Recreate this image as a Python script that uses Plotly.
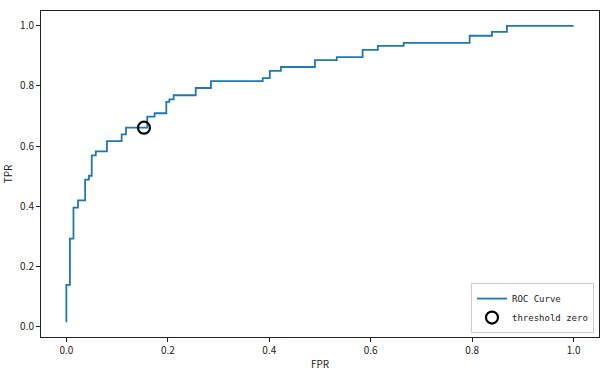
import plotly.graph_objects as go

# ROC curve corners (x of each vertical rise, TPR after the rise)
fpr = [0.0, 0.0, 0.007, 0.014, 0.023, 0.037, 0.0445, 0.050, 0.058, 0.080,
       0.109, 0.1175, 0.1595, 0.174, 0.197, 0.203, 0.2115, 0.255, 0.285,
       0.387, 0.401, 0.423, 0.490, 0.533, 0.584, 0.614, 0.665, 0.795,
       0.839, 0.8685, 1.0]
tpr = [0.0138, 0.138, 0.292, 0.395, 0.419, 0.488, 0.501, 0.569, 0.582, 0.616,
       0.639, 0.661, 0.698, 0.709, 0.747, 0.755, 0.769, 0.793, 0.816,
       0.826, 0.850, 0.863, 0.886, 0.896, 0.920, 0.933, 0.943, 0.967,
       0.980, 1.0, 1.0]

thr_fpr = [0.153]
thr_tpr = [0.661]

tick_vals = [0.0, 0.2, 0.4, 0.6, 0.8, 1.0]
tick_text = ["0.0", "0.2", "0.4", "0.6", "0.8", "1.0"]

FONT = "Noto Sans CJK SC"

fig = go.Figure()
fig.add_trace(go.Scatter(
    x=fpr, y=tpr, mode="lines", line_shape="hv",
    line=dict(color="#1f77b4", width=1.8), name="ROC Curve"))
fig.add_trace(go.Scatter(
    x=thr_fpr, y=thr_tpr, mode="markers", name="threshold zero",
    marker=dict(symbol="circle-open", size=12, color="black",
                line=dict(width=2.2, color="black"))))

axis_common = dict(showline=True, linecolor="#222", linewidth=1, mirror=True,
                   ticks="outside", ticklen=4, tickcolor="#222", showgrid=False,
                   zeroline=False, tickvals=tick_vals, ticktext=tick_text,
                   automargin=False,
                   tickfont=dict(family=FONT, size=10, color="#222"))

fig.update_layout(
    width=609, height=371,
    margin=dict(l=41, r=10, t=11, b=34),
    plot_bgcolor="white", paper_bgcolor="white",
    font=dict(family=FONT, size=10, color="#222"),
    xaxis=dict(range=[-0.05, 1.05],
               title=dict(text="FPR", font=dict(family=FONT, size=10), standoff=4),
               **axis_common),
    yaxis=dict(range=[-0.0355, 1.0493],
               title=dict(text="TPR", font=dict(family=FONT, size=10), standoff=8),
               **axis_common),
    legend=dict(x=0.991, y=0.012, xanchor="right", yanchor="bottom",
                bgcolor="rgba(255,255,255,0.8)", bordercolor="#ccc", borderwidth=1,
                font=dict(family="DejaVu Sans Mono", size=9, color="#222"),
                tracegroupgap=0, itemwidth=30),
    showlegend=True,
)

fig.write_html("out.html", config={"displayModeBar": False})

# remove default page margin so the figure sits at the window origin
with open("out.html", "r", encoding="utf-8") as f:
    html = f.read()
html = html.replace("<head>", "<head><style>html,body{margin:0;padding:0;overflow:hidden;}</style>", 1)
with open("out.html", "w", encoding="utf-8") as f:
    f.write(html)
